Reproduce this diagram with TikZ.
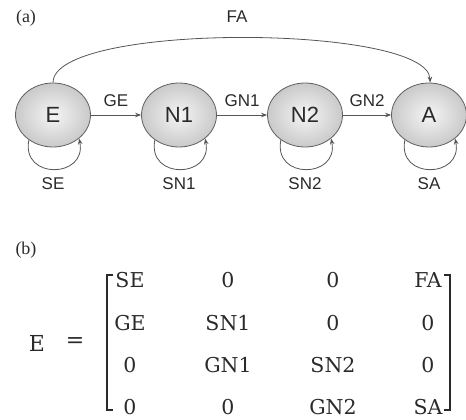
\documentclass[tikz,border=0pt]{standalone}
\usepackage{fontspec}
\setmainfont{Liberation Sans}
\newfontfamily\matfont{DejaVu Serif}
\newfontfamily\capfont{Liberation Serif}
\usetikzlibrary{arrows.meta,shapes.geometric}
\definecolor{edgec}{HTML}{555555}
\definecolor{txtc}{HTML}{2A2A2A}
\tikzset{
  state/.style={ellipse, draw=gray!75!black, line width=0.8pt, minimum width=75pt, minimum height=64pt,
    inner color=gray!8, outer color=gray!42, text=txtc, font=\fontsize{22}{22}\selectfont, inner sep=0pt},
  conn/.style={draw=edgec, line width=0.8pt, -{Stealth[length=6pt,width=4.5pt]}},
  elabel/.style={text=txtc, font=\fontsize{17}{17}\selectfont, inner sep=0pt},
  plabel/.style={text=txtc, font=\capfont\fontsize{18}{18}\selectfont, inner sep=0pt},
  mentry/.style={text=txtc, font=\matfont\fontsize{20.5}{20.5}\selectfont, inner sep=0pt},
  brack/.style={draw=txtc, line width=1.4pt}
}
\begin{document}
\begin{tikzpicture}[x=1pt,y=-1pt]
\useasboundingbox (0,0) rectangle (466,420);
\node[plabel] (pa) at (26,18) {(a)};
\node[plabel] (pb) at (26,250) {(b)};
% states
\node[state] (E) at (53,115) {E};
\node[state] (N1) at (179,115) {N1};
\node[state] (N2) at (305,115) {N2};
\node[state] (A) at (429,115) {A};
% forward edges
\draw[conn] (E) -- node[elabel, pos=0.5, yshift=14pt] (lGE) {GE} (N1);
\draw[conn] (N1) -- node[elabel, pos=0.5, yshift=14pt] (lGN1) {GN1} (N2);
\draw[conn] (N2) -- node[elabel, pos=0.5, yshift=14pt] (lGN2) {GN2} (A);
% FA
\draw[conn] (E.north) .. controls (53,22) and (428,24) .. (A.88);
\node[elabel] (lFA) at (237,17) {FA};
% self loops
\foreach \n/\l in {E/SE,N1/SN1,N2/SN2,A/SA}{
  \draw[conn] (\n.226) .. controls +(-8,40) and +(8,40) .. (\n.318);
  \node[elabel] at ([yshift=-69pt]\n.center) {\l};
}
% matrix
\node[mentry, font=\matfont\fontsize{22}{22}\selectfont] (mE) at (37,343) {E};
\node[mentry, font=\matfont\fontsize{22}{22}\selectfont] (meq) at (75,343) {=};
\draw[brack] (113,275) -- (107,275) -- (107,410) -- (113,410);
\draw[brack] (444,275) -- (450,275) -- (450,410) -- (444,410);
\node[mentry] (m11) at (130,280) {SE};
\node[mentry] (m12) at (228,280) {0};
\node[mentry] (m13) at (333,280) {0};
\node[mentry] (m14) at (428,280) {FA};
\node[mentry] (m21) at (130,323) {GE};
\node[mentry] (m22) at (228,323) {SN1};
\node[mentry] (m23) at (333,323) {0};
\node[mentry] (m24) at (428,323) {0};
\node[mentry] (m31) at (130,365) {0};
\node[mentry] (m32) at (228,365) {GN1};
\node[mentry] (m33) at (333,365) {SN2};
\node[mentry] (m34) at (428,365) {0};
\node[mentry] (m41) at (130,407) {0};
\node[mentry] (m42) at (228,407) {0};
\node[mentry] (m43) at (333,407) {GN2};
\node[mentry] (m44) at (428,407) {SA};
\end{tikzpicture}
\end{document}
